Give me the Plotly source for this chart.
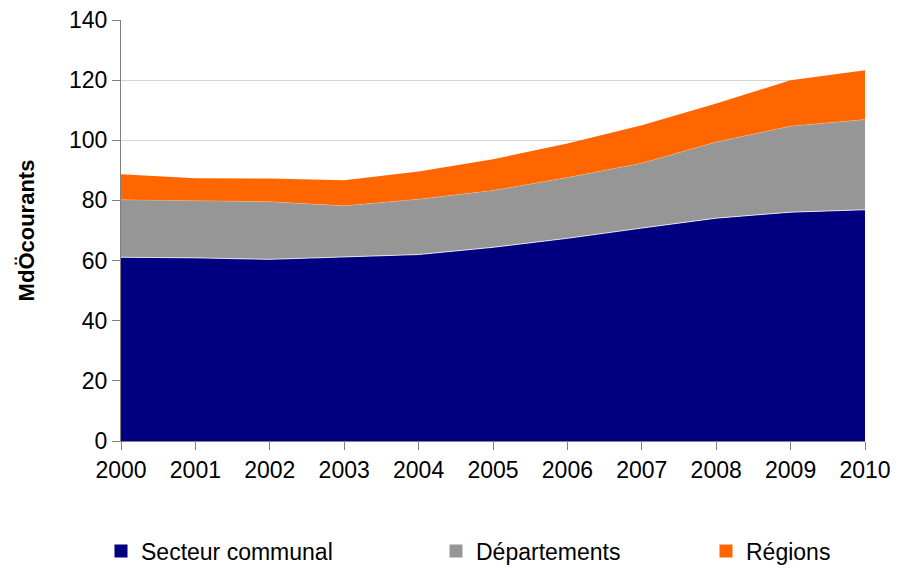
import plotly.graph_objects as go

years = [2000, 2001, 2002, 2003, 2004, 2005, 2006, 2007, 2008, 2009, 2010]
secteur_communal = [61.1, 60.9, 60.4, 61.1, 62.0, 64.4, 67.4, 70.8, 74.1, 76.1, 76.9]
departements = [19.1, 18.9, 19.2, 17.1, 18.4, 18.9, 20.2, 21.6, 25.3, 28.6, 30.0]
regions = [8.5, 7.6, 7.7, 8.5, 9.2, 10.4, 11.3, 12.6, 12.8, 15.3, 16.4]

names = ["Secteur communal", "Départements", "Régions"]
series = [secteur_communal, departements, regions]
colors = ["#000080", "#969696", "#FF6600"]
line_specs = [dict(width=1, color="rgba(255,255,255,0.75)"), dict(width=0.5, color="rgba(255,255,255,0.4)"), dict(width=0)]
legend_ids = ["legend", "legend2", "legend3"]
legend_x = [101, 436, 706]

FONT = "Liberation Sans, Arial, sans-serif"

fig = go.Figure()
for name, vals, col, ls in zip(names, series, colors, line_specs):
    fig.add_trace(go.Scatter(
        x=years, y=vals, name=name, mode="lines", stackgroup="one",
        fillcolor=col, line=ls, showlegend=False, hoverinfo="skip"))

for name, col, lid in zip(names, colors, legend_ids):
    fig.add_trace(go.Scatter(
        x=[None], y=[None], name=name, mode="markers",
        marker=dict(symbol="square", size=13, color=col),
        legend=lid, showlegend=True))

legend_common = dict(orientation="h", xref="container", yref="container",
                     yanchor="middle", y=1 - 551 / 568, xanchor="left",
                     font=dict(family=FONT, size=23, color="#000000"),
                     bgcolor="rgba(0,0,0,0)", itemwidth=30)

layout_legends = {}
for lid, lx in zip(legend_ids, legend_x):
    d = dict(legend_common)
    d["x"] = lx / 898
    layout_legends[lid] = d

fig.update_layout(
    width=898, height=568,
    margin=dict(l=121, r=33, t=20, b=127, autoexpand=False),
    paper_bgcolor="white", plot_bgcolor="white",
    font=dict(family=FONT, size=23, color="#000000"),
    xaxis=dict(range=[2000, 2010], tick0=2000, dtick=1, showgrid=False,
               showline=True, linecolor="#808080", linewidth=1,
               ticks="outside", ticklen=8, tickcolor="#808080",
               tickfont=dict(family=FONT, size=23, color="#000000"),
               zeroline=False, automargin=False, fixedrange=True),
    yaxis=dict(range=[0, 140], tick0=0, dtick=20, showgrid=True,
               gridcolor="#d4d4d4", gridwidth=1,
               showline=True, linecolor="#808080", linewidth=1,
               ticks="outside", ticklen=8, tickcolor="#808080",
               tickfont=dict(family=FONT, size=23, color="#000000"),
               zeroline=False, automargin=False,
               title=dict(text="<b>MdÖcourants</b>", standoff=28,
                          font=dict(family=FONT, size=22, color="#000000")),
               fixedrange=True),
    **layout_legends,
)

fig.write_html("out.html", config={"displayModeBar": False},
               post_script="document.body.style.margin='0';")
